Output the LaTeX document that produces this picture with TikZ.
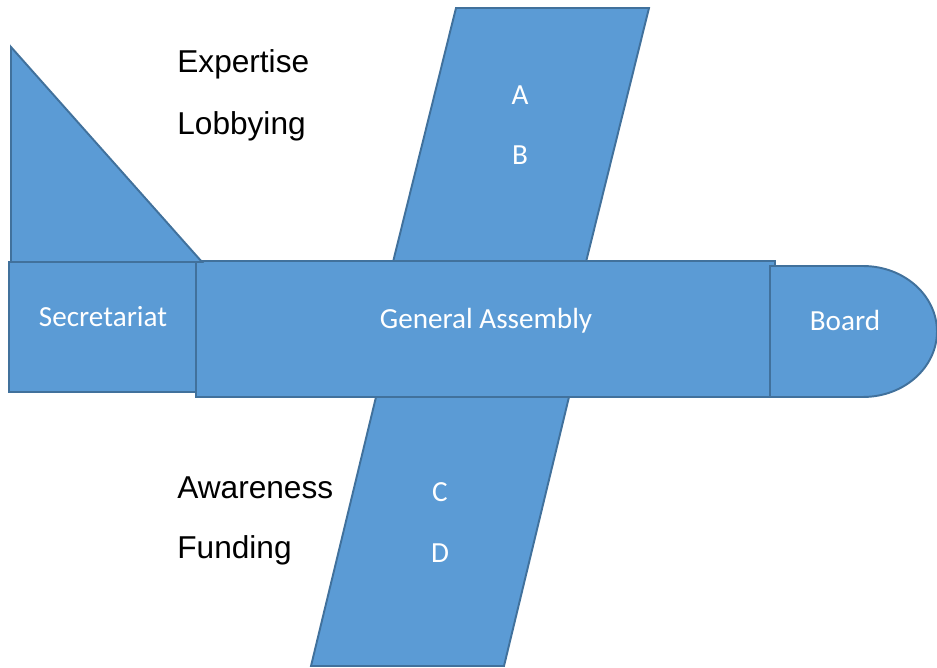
\documentclass[tikz,border=0pt]{standalone}
\usepackage{fontspec}
\setmainfont{Carlito}
\newfontfamily\notefont{Liberation Sans}
\usepackage{tikz}
\usetikzlibrary{positioning}
\definecolor{planefill}{HTML}{5B9BD5}
\definecolor{planeedge}{HTML}{41719C}
\def\thickness{1.1pt}
\tikzset{
part/.style={fill=planefill, draw=planeedge, line width=\thickness, line join=miter},
inlabel/.style={text=white, font=\fontsize{16.6}{20}\selectfont, anchor=base, inner sep=0pt},
sidenote/.style={text=black, font=\notefont\fontsize{18}{22}\selectfont, anchor=base west, inner sep=0pt},
}
\begin{document}
\begin{tikzpicture}[x=0.02cm, y=-0.02cm]
	\useasboundingbox (0,0) rectangle (937,667);
	
	% wings
	\draw[part] (456,8) -- (649,8) -- (586,262) -- (393,262) -- cycle;
	\draw[part] (376,397) -- (569,397) -- (504,666) -- (311,666) -- cycle;
	
	% body
	\draw[part] (196,261) rectangle (775,397);
	\draw[part] (770,266) -- (863,266) arc[start angle=90, end angle=-90, x radius=1.48cm, y radius=1.31cm] -- (770,397) -- cycle;
	\draw[part] (9,262) rectangle (196,392);
	\draw[part] (11,47) -- (202,262) -- (11,262) -- cycle;
	
	% labels inside
	\node[inlabel] (sec) at (103,326) {Secretariat};
	\node[inlabel] (ga) at (486,328) {General Assembly};
	\node[inlabel] (board) at (845,330) {Board};
	\node[inlabel] (a) at (520,104) {A};
	\node[inlabel] (b) at (520,164) {B};
	\node[inlabel] (c) at (440,501) {C};
	\node[inlabel] (d) at (440,562) {D};
	
	% notes beside the wings
	\node[sidenote] (expertise) at (177,72) {Expertise};
	\node[sidenote] (lobbying) at (177,134) {Lobbying};
	\node[sidenote] (awareness) at (177,498) {Awareness};
	\node[sidenote] (funding) at (177,558) {Funding};
\end{tikzpicture}
\end{document}
